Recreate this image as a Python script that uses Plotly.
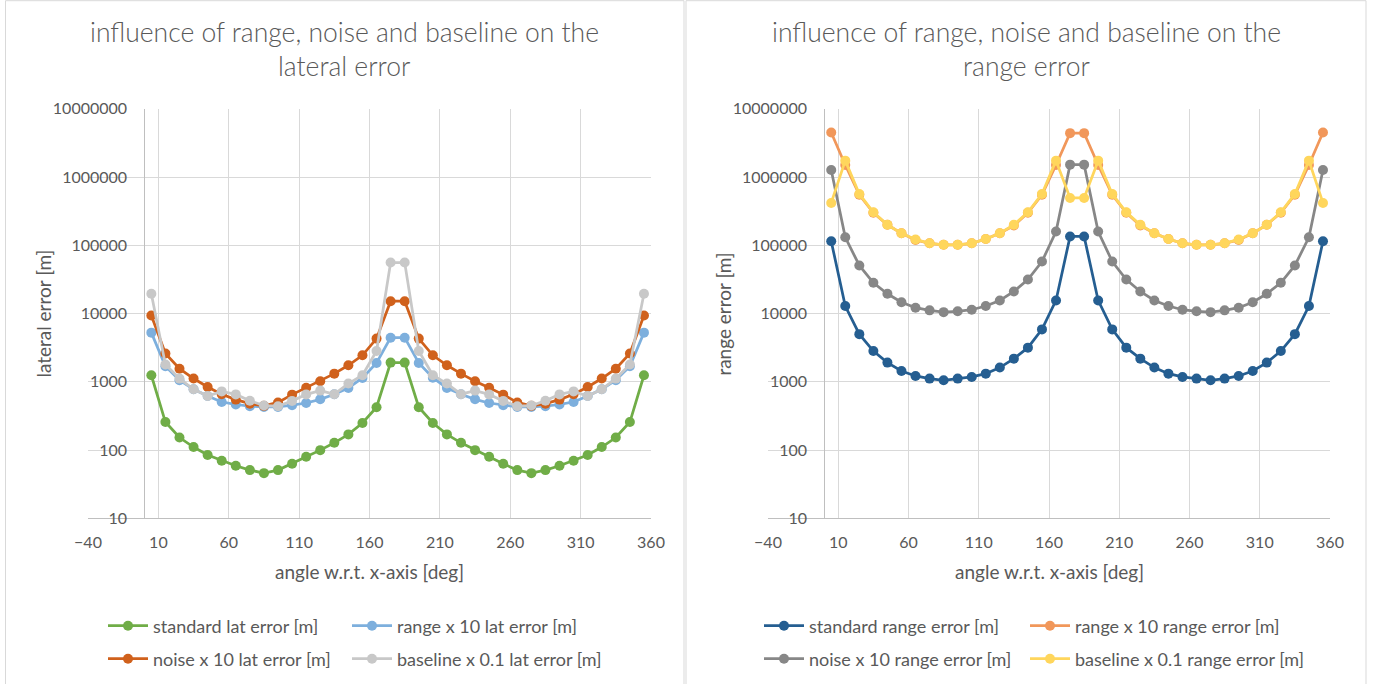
import plotly.graph_objects as go

# Sensor geometry: error vs. viewing angle (deg), log-scaled errors in metres
angles = [5, 15, 25, 35, 45, 55, 65, 75, 85, 95, 105, 115, 125, 135, 145, 155, 165, 175,
          185, 195, 205, 215, 225, 235, 245, 255, 265, 275, 285, 295, 305, 315, 325, 335, 345, 355]

# lateral error [m]
lat_standard = [1250, 258, 153, 111, 85, 70, 59, 51, 46, 51, 63, 80, 100, 128, 170, 250, 425, 1915,
                1915, 425, 250, 170, 128, 100, 80, 63, 51, 46, 51, 59, 70, 85, 111, 153, 258, 1250]
lat_range10 = [5260, 1690, 1055, 780, 620, 508, 466, 440, 430, 430, 455, 490, 555, 660, 815, 1140, 1890, 4440,
               4440, 1890, 1150, 815, 660, 555, 490, 455, 430, 430, 440, 466, 508, 620, 780, 1055, 1690, 5260]
lat_noise10 = [9400, 2600, 1560, 1120, 840, 660, 550, 480, 445, 500, 650, 820, 1020, 1320, 1750, 2450, 4300, 15200,
               15200, 4300, 2450, 1750, 1320, 1020, 820, 650, 500, 445, 480, 550, 660, 840, 1120, 1560, 2600, 9400]
lat_baseline01 = [19500, 1800, 1117, 780, 622, 725, 655, 530, 450, 440, 526, 655, 745, 660, 945, 1250, 2830, 56000,
                  56000, 2830, 1250, 945, 660, 745, 655, 526, 440, 450, 530, 655, 725, 622, 780, 1117, 1800, 19500]

# range error [m]
rng_standard = [115000, 12900, 5000, 2830, 1915, 1445, 1220, 1117, 1055, 1117, 1180, 1320, 1620, 2190, 3170, 5870, 15600, 135000,
                135000, 15600, 5870, 3170, 2190, 1620, 1320, 1180, 1117, 1055, 1117, 1220, 1445, 1915, 2830, 5000, 12900, 115000]
rng_range10 = [4500000, 1500000, 550000, 300000, 200000, 150000, 120000, 107000, 102000, 102000, 107000, 124000, 150000, 195000, 300000, 550000, 1500000, 4400000,
               4400000, 1500000, 550000, 300000, 195000, 150000, 124000, 107000, 102000, 102000, 107000, 120000, 150000, 200000, 300000, 550000, 1500000, 4500000]
rng_noise10 = [1270000, 131000, 50700, 28300, 19500, 14700, 12200, 11150, 10500, 10800, 11400, 12900, 15600, 21100, 31600, 58000, 159000, 1520000,
               1520000, 159000, 58000, 31600, 21100, 15600, 12900, 11400, 10800, 10500, 11150, 12200, 14700, 19500, 28300, 50700, 131000, 1270000]
rng_baseline01 = [418000, 1740000, 566000, 305000, 200000, 150000, 122000, 107000, 102000, 102000, 107000, 124000, 150000, 200000, 305000, 566000, 1740000, 494000,
                  494000, 1740000, 566000, 305000, 200000, 150000, 124000, 107000, 102000, 102000, 107000, 122000, 150000, 200000, 305000, 566000, 1740000, 418000]

x_ticks = [-40, 10, 60, 110, 160, 210, 260, 310, 360]
y_ticks = [10, 100, 1000, 10000, 100000, 1000000, 10000000]
y_ticktext = ["10", "100", "1000", "10000", "100000", "1000000", "10000000"]

W, H = 1377, 684
FONT = "Lato, 'Open Sans', sans-serif"
TXT = "#595959"
GRID = "#d9d9d9"
AXIS = "#bfbfbf"


def fx(p):
    return p / W


def fy(p):
    return 1 - p / H


fig = go.Figure()

# (name, values, colour, legend-slot x, legend-slot y) -- one legend box per entry
left_series = [
    ("standard lat error [m]", lat_standard, "#70AD47", 103, 626),
    ("range x 10 lat error [m]", lat_range10, "#7DAFDD", 347, 626),
    ("noise x 10 lat error [m]", lat_noise10, "#D0611C", 103, 659),
    ("baseline x 0.1 lat error [m]", lat_baseline01, "#C8C8C8", 347, 659),
]
right_series = [
    ("standard range error [m]", rng_standard, "#255E91", 759, 626),
    ("range x 10 range error [m]", rng_range10, "#F1975A", 1025, 626),
    ("noise x 10 range error [m]", rng_noise10, "#878787", 759, 659),
    ("baseline x 0.1 range error [m]", rng_baseline01, "#FFD65C", 1025, 659),
]


def legend_cfg(x, y):
    return dict(orientation="h", x=fx(x), y=fy(y), xanchor="left", yanchor="middle",
                itemwidth=40, bgcolor="rgba(0,0,0,0)", visible=True,
                font=dict(family=FONT, size=18, color=TXT), itemclick=False,
                itemdoubleclick=False)


legends = {}
k = 0
for series, xa, ya in [(left_series, "x", "y"), (right_series, "x2", "y2")]:
    for name, vals, col, lx, ly in series:
        k += 1
        lg = "legend" if k == 1 else f"legend{k}"
        legends[lg] = legend_cfg(lx, ly)
        fig.add_trace(go.Scatter(x=angles, y=vals, name=name, mode="lines+markers",
                                 line=dict(color=col, width=2.75),
                                 marker=dict(color=col, size=10, symbol="circle"),
                                 xaxis=xa, yaxis=ya, legend=lg, showlegend=True))

plot_top, plot_bot = 108.8, 518.4
left_x0, left_x1 = 88, 651
right_x0, right_x1 = 768, 1330


def xaxis_cfg(x0, x1, anchor):
    return dict(domain=[fx(x0), fx(x1)], range=[-40, 360], tickvals=x_ticks,
                showgrid=True, gridcolor=GRID, gridwidth=1, zeroline=False,
                showline=True, linecolor=AXIS, linewidth=1, ticks="",
                tickfont=dict(family=FONT, size=16, color=TXT), automargin=False,
                ticklabelstandoff=9, anchor=anchor, fixedrange=True)


def yaxis_cfg(x0, x1):
    # value axis crosses the category axis at x = 0
    pos = fx(x0 + (x1 - x0) * 40 / 400)
    return dict(domain=[fy(plot_bot), fy(plot_top)], type="log", range=[1, 7],
                tickvals=y_ticks, ticktext=y_ticktext,
                showgrid=True, gridcolor=GRID, gridwidth=1, zeroline=False,
                showline=True, linecolor=AXIS, linewidth=1, ticks="",
                tickfont=dict(family=FONT, size=16, color=TXT), automargin=False,
                ticklabelstandoff=14, anchor="free", position=pos, fixedrange=True)


annotations = []
for cx, line2 in [(344.5, "lateral error"), (1026, "range error")]:
    annotations.append(dict(text="influence of range, noise and baseline on the", x=fx(cx), y=fy(32),
                            xref="paper", yref="paper", showarrow=False, xanchor="center", yanchor="middle",
                            font=dict(family=FONT, size=26.5, color=TXT, weight=300)))
    annotations.append(dict(text=line2, x=fx(cx), y=fy(66), xref="paper", yref="paper",
                            showarrow=False, xanchor="center", yanchor="middle",
                            font=dict(family=FONT, size=26.5, color=TXT, weight=300)))

for cx in [(left_x0 + left_x1) / 2, (right_x0 + right_x1) / 2]:
    annotations.append(dict(text="angle w.r.t. x-axis [deg]", x=fx(cx), y=fy(571), xref="paper", yref="paper",
                            showarrow=False, xanchor="center", yanchor="middle",
                            font=dict(family=FONT, size=19, color=TXT)))
for cx, t in [(44, "lateral error [m]"), (724, "range error [m]")]:
    annotations.append(dict(text=t, x=fx(cx), y=fy((plot_top + plot_bot) / 2), xref="paper", yref="paper",
                            showarrow=False, xanchor="center", yanchor="middle", textangle=-90,
                            font=dict(family=FONT, size=19, color=TXT)))

# chart-area borders
shapes = [
    dict(type="rect", xref="paper", yref="paper", x0=fx(5.5), x1=fx(684), y0=fy(700), y1=fy(0.7),
         line=dict(color=GRID, width=1), fillcolor="rgba(0,0,0,0)", layer="below"),
    dict(type="rect", xref="paper", yref="paper", x0=fx(686), x1=fx(1366), y0=fy(700), y1=fy(0.7),
         line=dict(color=GRID, width=1), fillcolor="rgba(0,0,0,0)", layer="below"),
]

fig.update_layout(
    width=W, height=H, margin=dict(l=0, r=0, t=0, b=0, pad=0, autoexpand=False),
    paper_bgcolor="white", plot_bgcolor="white", showlegend=True,
    xaxis=xaxis_cfg(left_x0, left_x1, "y"),
    yaxis=yaxis_cfg(left_x0, left_x1),
    xaxis2=xaxis_cfg(right_x0, right_x1, "y2"),
    yaxis2=yaxis_cfg(right_x0, right_x1),
    annotations=annotations, shapes=shapes,
    hovermode=False,
    **legends,
)

fig.write_html(
    "out.html", config={"displayModeBar": False},
    post_script=("document.documentElement.style.margin='0';document.body.style.margin='0';"
                 "document.body.style.overflow='hidden';"
                 "var g=document.getElementById('{plot_id}');g.style.position='absolute';"
                 "g.style.left='0px';g.style.top='0px';"),
)
